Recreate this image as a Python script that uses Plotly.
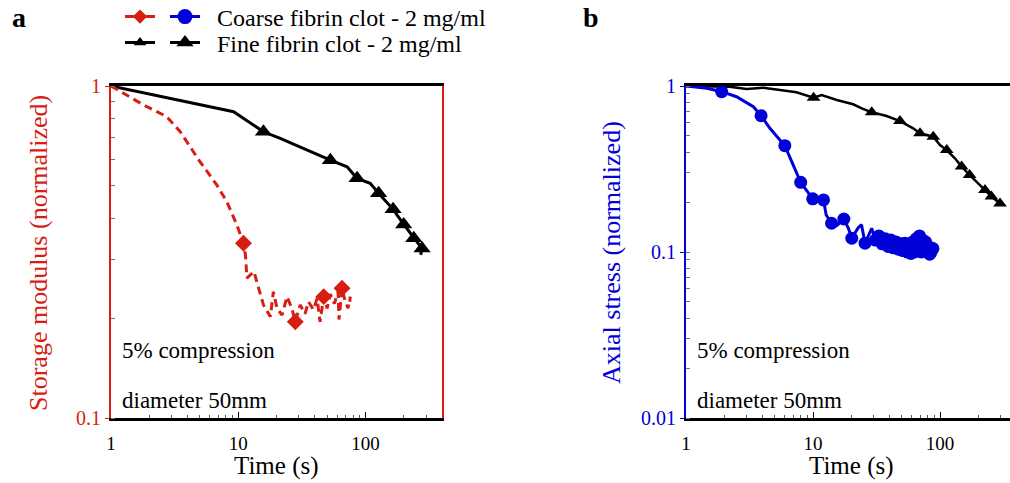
import math
import plotly.graph_objects as go

# ---------------- data ----------------
# Panel a: storage modulus (normalized) vs time (s)
a_fine_t = [1, 9.2, 15.8, 21.4, 53, 71.8, 86, 109, 127, 165, 200, 240, 279, 272]
a_fine_v = [1, 0.837, 0.728, 0.695, 0.598, 0.571, 0.527, 0.509, 0.475, 0.425, 0.383, 0.348, 0.324, 0.31]
a_fine_marks = [2, 4, 6, 8, 9, 10, 11, 12]

a_coarse_t = [1, 1.8, 2.74, 3.5, 5.0, 6.8, 8.15, 9.77, 11.0, 11.4, 11.7, 13.3, 14.0, 15.8, 17.9,
              18.9, 20.2, 22.1, 24.2, 26.4, 28.1, 30.7, 33.5, 35.7, 39, 41.7, 44, 47, 50, 53,
              57, 61, 62, 65.5, 69, 73, 76, 75]
a_coarse_v = [1, 0.877, 0.809, 0.728, 0.592, 0.503, 0.448, 0.381, 0.336, 0.31, 0.264, 0.276, 0.257, 0.219, 0.202,
              0.24, 0.214, 0.204, 0.232, 0.214, 0.195, 0.219, 0.206, 0.224, 0.212, 0.229, 0.195, 0.232, 0.214, 0.236,
              0.221, 0.24, 0.198, 0.246, 0.226, 0.214, 0.232, 0.22]
a_coarse_marks = [8, 20, 27, 33]

# Panel b: axial stress (normalized) vs time (s)
b_fine_t = [1, 2.2, 3.0, 4.06, 5.5, 7.4, 10.1, 11.7, 15.4, 20.7, 24.2, 29, 33.6, 38, 48.4, 61.5,
            69.6, 88.5, 100, 113, 131, 148, 171, 195, 226, 254, 297]
b_fine_v = [1, 0.99, 0.96, 0.977, 0.946, 0.916, 0.85, 0.883, 0.824, 0.776, 0.734, 0.694, 0.676, 0.66, 0.615, 0.556,
            0.519, 0.495, 0.441, 0.411, 0.367, 0.327, 0.291, 0.265, 0.236, 0.216, 0.196]
b_fine_marks = [6, 11, 14, 16, 17, 19, 21, 22, 24, 25, 26]

b_coarse_t = [1, 1.46, 1.91, 2.5, 3.39, 3.9, 4.58, 6.0, 6.8, 8.0, 9.95, 12.1, 12.7, 14.0, 15.5, 17.5,
              19, 20.2, 22.7, 24.1, 25.7, 29, 31, 33, 35, 37, 39, 41, 43, 45, 47, 49, 51, 53, 55,
              57, 59, 61, 63, 65, 67, 69, 71, 73, 75, 77, 79, 81, 83, 85, 88]
b_coarse_v = [1, 0.968, 0.924, 0.862, 0.75, 0.663, 0.556, 0.437, 0.35, 0.263, 0.209, 0.206, 0.167, 0.149, 0.145, 0.158,
              0.139, 0.121, 0.14, 0.146, 0.113, 0.139, 0.118, 0.125, 0.112, 0.12, 0.108, 0.118, 0.106, 0.115, 0.104,
              0.112, 0.102, 0.113, 0.1, 0.11, 0.098, 0.115, 0.1, 0.12, 0.105, 0.125, 0.1, 0.118, 0.102, 0.115, 0.1,
              0.108, 0.097, 0.1, 0.105]
b_coarse_marks = [2, 5, 7, 9, 10, 11, 13, 15, 17, 20] + list(range(22, 51))

x_ticks = [1, 10, 100]
x_tick_text = ["1", "10", "100"]
a_y_ticks = [0.1, 1]
a_y_tick_text = ["0.1", "1"]
b_y_ticks = [0.01, 0.1, 1]
b_y_tick_text = ["0.01", "0.1", "1"]

coarse_name = "Coarse fibrin clot - 2 mg/ml"
fine_name = "Fine fibrin clot - 2 mg/ml"

# ---------------- style ----------------
W, H = 1010, 483
RED = "#d81e12"
BLUE = "#0000d8"
BLACK = "#000000"
FONT = "Liberation Serif, DejaVu Serif, Times New Roman, serif"
GAP = "\u2002"  # visual gap between legend symbol and label


def pxx(x):
    return x / W


def pxy(y):
    return 1 - y / H


def pick(vals, idx):
    return [vals[i] for i in idx]


fig = go.Figure()

# panel a
fig.add_trace(go.Scatter(x=a_fine_t, y=a_fine_v, mode="lines", line=dict(color=BLACK, width=3),
                         xaxis="x", yaxis="y", showlegend=False))
fig.add_trace(go.Scatter(x=pick(a_fine_t, a_fine_marks), y=pick(a_fine_v, a_fine_marks), mode="markers",
                         marker=dict(symbol="triangle-up", size=15, color=BLACK),
                         xaxis="x", yaxis="y", showlegend=False))
fig.add_trace(go.Scatter(x=a_coarse_t, y=a_coarse_v, mode="lines",
                         line=dict(color=RED, width=3, dash="8px,5px"),
                         xaxis="x", yaxis="y", showlegend=False))
fig.add_trace(go.Scatter(x=pick(a_coarse_t, a_coarse_marks), y=pick(a_coarse_v, a_coarse_marks), mode="markers",
                         marker=dict(symbol="diamond", size=13, color=RED),
                         xaxis="x", yaxis="y", showlegend=False))

# panel b
fig.add_trace(go.Scatter(x=b_fine_t, y=b_fine_v, mode="lines", line=dict(color=BLACK, width=2.5),
                         xaxis="x2", yaxis="y2", showlegend=False))
fig.add_trace(go.Scatter(x=pick(b_fine_t, b_fine_marks), y=pick(b_fine_v, b_fine_marks), mode="markers",
                         marker=dict(symbol="triangle-up", size=12, color=BLACK),
                         xaxis="x2", yaxis="y2", showlegend=False))
fig.add_trace(go.Scatter(x=b_coarse_t, y=b_coarse_v, mode="lines", line=dict(color=BLUE, width=3),
                         xaxis="x2", yaxis="y2", showlegend=False))
fig.add_trace(go.Scatter(x=pick(b_coarse_t, b_coarse_marks), y=pick(b_coarse_v, b_coarse_marks), mode="markers",
                         marker=dict(symbol="circle", size=13, color=BLUE),
                         xaxis="x2", yaxis="y2", showlegend=False))

# legend entries (legend-only samples)
fig.add_trace(go.Scatter(x=[None], y=[None], mode="lines+markers", name="",
                         line=dict(color=RED, width=3), marker=dict(symbol="diamond", size=11, color=RED),
                         legend="legend", xaxis="x", yaxis="y"))
fig.add_trace(go.Scatter(x=[None], y=[None], mode="lines+markers", name=GAP + coarse_name,
                         line=dict(color=BLUE, width=3), marker=dict(symbol="circle", size=15, color=BLUE),
                         legend="legend", xaxis="x", yaxis="y"))
fig.add_trace(go.Scatter(x=[None], y=[None], mode="lines+markers", name="",
                         line=dict(color=BLACK, width=3), marker=dict(symbol="triangle-up", size=11, color=BLACK),
                         legend="legend2", xaxis="x", yaxis="y"))
fig.add_trace(go.Scatter(x=[None], y=[None], mode="lines+markers", name=GAP + fine_name,
                         line=dict(color=BLACK, width=3), marker=dict(symbol="triangle-up", size=15, color=BLACK),
                         legend="legend2", xaxis="x", yaxis="y"))

common_x = dict(type="log", showgrid=False, zeroline=False, showline=True, linecolor=BLACK, linewidth=2.5,
                mirror=True, ticks="inside", ticklen=6, tickcolor=BLACK, tickwidth=1,
                tickvals=x_ticks, ticktext=x_tick_text, ticklabelstandoff=6,
                tickfont=dict(family=FONT, size=19, color=BLACK),
                minor=dict(ticks="inside", ticklen=3, dtick="D1", tickcolor="#555555", showgrid=False))

leg_common = dict(orientation="h", xanchor="left", yanchor="middle", bgcolor="rgba(0,0,0,0)",
                  font=dict(family=FONT, size=24, color=BLACK), itemwidth=30,
                  itemsizing="trace", traceorder="normal")

fig.update_layout(
    width=W, height=H,
    margin=dict(l=0, r=0, t=0, b=0, autoexpand=False),
    paper_bgcolor="white", plot_bgcolor="white",
    font=dict(family=FONT, color=BLACK),
    xaxis=dict(domain=[pxx(111), pxx(442)], range=[0, math.log10(400)], anchor="y", **common_x),
    yaxis=dict(domain=[pxy(418), pxy(86)], type="log", range=[-1, 0], anchor="x",
               showgrid=False, zeroline=False, showline=True, linecolor=RED, linewidth=2, mirror=True,
               ticks="outside", ticklen=4, tickcolor=RED, tickvals=a_y_ticks, ticktext=a_y_tick_text,
               tickfont=dict(family=FONT, size=20, color=RED),
               minor=dict(ticks="inside", ticklen=4, dtick="D1", tickcolor="#777777", showgrid=False)),
    xaxis2=dict(domain=[pxx(686), 1.0], range=[0, (1010 - 686) / 127], anchor="y2", **common_x),
    yaxis2=dict(domain=[pxy(418), pxy(86)], type="log", range=[-2, 0], anchor="x2",
                showgrid=False, zeroline=False, showline=True, linecolor=BLUE, linewidth=2, mirror=False,
                ticks="outside", ticklen=4, tickcolor=BLUE, tickvals=b_y_ticks, ticktext=b_y_tick_text,
                tickfont=dict(family=FONT, size=20, color=BLUE),
                minor=dict(ticks="inside", ticklen=4, dtick="D1", tickcolor="#777777", showgrid=False)),
    legend=dict(x=pxx(120), y=pxy(17), **leg_common),
    legend2=dict(x=pxx(120), y=pxy(43), **leg_common),
)


def note(text, x, y, size, color=BLACK, xanchor="center", angle=0):
    return dict(text=text, x=pxx(x), y=pxy(y), xref="paper", yref="paper", showarrow=False,
                xanchor=xanchor, yanchor="middle", textangle=angle,
                font=dict(family=FONT, size=size, color=color))


ann = [note("<b>a</b>", 19, 18, 28), note("<b>b</b>", 591, 18, 28)]
for cx in (276, 851):
    ann.append(note("Time (s)", cx, 466, 25))
ann.append(note("Storage modulus (normalized)", 38, 253, 26, RED, angle=-90))
ann.append(note("Axial stress (normalized)", 611, 253, 26, BLUE, angle=-90))
for lx in (120, 695):
    ann.append(note("5% compression", lx, 350, 23, xanchor="left"))
    ann.append(note("diameter 50mm", lx, 400, 23, xanchor="left"))
fig.update_layout(annotations=ann)

fig.write_html("out.html")
